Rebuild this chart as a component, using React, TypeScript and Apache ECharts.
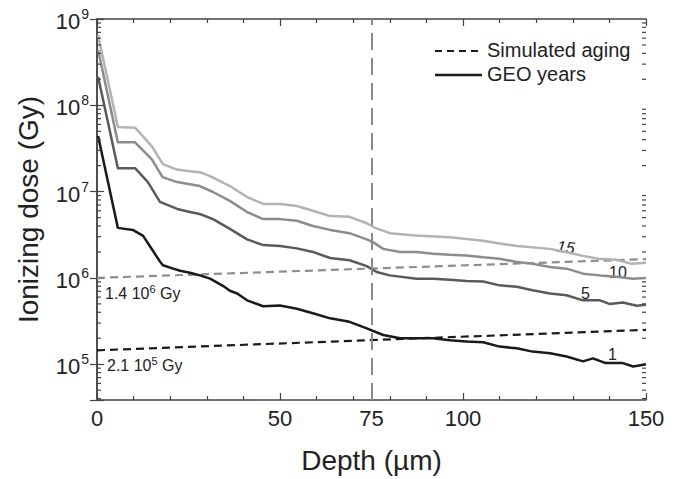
import React, { useEffect, useRef } from 'react';
import * as echarts from 'echarts';

const FONT = '"Liberation Sans", Arial, Helvetica, sans-serif';
const AXIS = '#444';
const TXT = '#222';

// Depth (µm) / ionizing dose (Gy)
const depth1 = [0.3, 5.7, 9.8, 12.6, 15.0, 17.2, 18.0, 20.8, 22.7, 25.4, 28.1, 30.9, 34.4, 36.3, 38.3, 41.0, 45.4, 50.0, 54.6, 59.0, 63.7, 69.0, 73.7, 78.2, 82.8, 87.3, 91.8, 96.4, 101.0, 105.5, 110.0, 114.7, 119.0, 123.8, 128.3, 132.8, 135.5, 139.0, 143.7, 146.5, 150.0];
const dose1 = [4.4e7, 3.8e6, 3.6e6, 3.07e6, 2.15e6, 1.55e6, 1.4e6, 1.28e6, 1.21e6, 1.15e6, 1.07e6, 0.98e6, 0.81e6, 0.71e6, 0.66e6, 0.55e6, 0.47e6, 0.48e6, 0.44e6, 0.39e6, 0.34e6, 0.31e6, 0.26e6, 0.218e6, 0.2e6, 0.2e6, 0.2e6, 0.19e6, 0.183e6, 0.18e6, 0.16e6, 0.153e6, 0.14e6, 0.134e6, 0.123e6, 0.108e6, 0.117e6, 0.103e6, 0.103e6, 0.094e6, 0.1e6];

const depth5 = [0.3, 5.7, 10.4, 13.9, 17.2, 21.9, 25.4, 28.1, 31.7, 36.3, 41.0, 45.4, 50.0, 54.6, 59.0, 63.7, 69.0, 73.7, 76.4, 80.0, 87.3, 91.8, 96.4, 101.0, 105.5, 110.0, 114.7, 119.0, 123.8, 128.3, 132.8, 137.4, 140.0, 143.7, 147.5, 150.0];
const dose5 = [2.14e8, 1.87e7, 1.87e7, 1.29e7, 7.6e6, 6.3e6, 5.8e6, 5.5e6, 4.8e6, 3.7e6, 2.8e6, 2.4e6, 2.35e6, 2.2e6, 2.0e6, 1.7e6, 1.6e6, 1.37e6, 1.17e6, 1.07e6, 0.98e6, 0.98e6, 0.95e6, 0.92e6, 0.91e6, 0.82e6, 0.79e6, 0.72e6, 0.66e6, 0.63e6, 0.55e6, 0.55e6, 0.5e6, 0.52e6, 0.475e6, 0.49e6];

const depth10 = [0.3, 5.7, 10.4, 15.0, 17.9, 21.9, 25.4, 28.1, 31.7, 36.3, 41.0, 45.4, 50.0, 54.6, 59.0, 63.7, 69.0, 73.7, 75.4, 78.2, 82.8, 87.3, 91.8, 96.4, 101.0, 105.5, 110.0, 114.7, 119.0, 123.8, 128.3, 132.8, 137.4, 142.0, 146.4, 150.0];
const dose10 = [4.4e8, 3.72e7, 3.72e7, 2.37e7, 1.47e7, 1.29e7, 1.22e7, 1.16e7, 9.9e6, 7.8e6, 5.8e6, 4.8e6, 4.8e6, 4.6e6, 4.0e6, 3.6e6, 3.3e6, 2.8e6, 2.6e6, 2.17e6, 2.0e6, 2.0e6, 1.9e6, 1.85e6, 1.82e6, 1.74e6, 1.67e6, 1.53e6, 1.46e6, 1.34e6, 1.28e6, 1.12e6, 1.07e6, 1.03e6, 0.98e6, 1.0e6];

const depth15 = [0.3, 5.7, 10.4, 15.0, 18.0, 21.9, 25.4, 28.1, 30.9, 36.3, 41.0, 45.4, 50.0, 54.6, 59.0, 63.7, 69.0, 73.7, 76.0, 80.0, 87.0, 96.4, 105.5, 110.0, 114.8, 123.8, 128.0, 132.8, 137.0, 142.0, 146.0, 150.0];
const dose15 = [6.5e8, 5.6e7, 5.5e7, 3.35e7, 2.08e7, 1.8e7, 1.72e7, 1.68e7, 1.51e7, 1.16e7, 8.65e6, 7.2e6, 7.2e6, 6.8e6, 6.0e6, 5.2e6, 5.1e6, 4.3e6, 3.8e6, 3.3e6, 3.1e6, 2.95e6, 2.7e6, 2.5e6, 2.35e6, 2.17e6, 2.0e6, 1.8e6, 1.67e6, 1.62e6, 1.46e6, 1.5e6];

// Simulated aging (dashed)
const agingDepth = [0, 150];
const agingHigh = [1.0e6, 1.65e6];
const agingLow = [1.45e5, 2.5e5];

const markDepth = 75;
const xLabels = [0, 50, 75, 100, 150];
const legendNames = ['Simulated aging', 'GEO years'];
const X_MIN = 0;
const X_MAX = 150;
const Y_MIN = 3.85e4;
const Y_MAX = 1e9;

const zip = (xs: number[], ys: number[]) => xs.slice(0, Math.min(xs.length, ys.length)).map((x, i) => [x, ys[i]]);

const yMinorTicks: number[][] = [];
for (let e = 4; e <= 8; e++) {
  for (let m = 2; m <= 9; m++) {
    const v = m * Math.pow(10, e);
    if (v > Y_MIN && v < Y_MAX) yMinorTicks.push([0, v]);
  }
}

export default function App() {
  const ref = useRef<HTMLDivElement>(null);
  useEffect(() => {
    document.body.style.margin = '0';
    const chart = echarts.init(ref.current!, null, { renderer: 'svg' });
    const axisLine = { show: true, lineStyle: { color: AXIS, width: 1.5 } };
    const tick = { show: true, inside: true, length: 7, lineStyle: { color: AXIS, width: 1.2 } };
    const powLabel = (v: number) => {
      const e = Math.log10(v);
      const r = Math.round(e);
      if (Math.abs(e - r) > 1e-6) return '';
      return '{b|10}{e|' + r + '}';
    };
    const lineSeries = (name: string, data: number[][], color: string, width = 2.5, type: any = 'solid') => ({
      name,
      type: 'line',
      data,
      symbol: 'none',
      showSymbol: false,
      lineStyle: { color, width, type },
      itemStyle: { color },
      z: 3,
    });
    const annot = (text: string, exp: string, left: number, top: number) => ({
      type: 'text', left, top,
      style: {
        text: '{n|' + text + '}{e|' + exp + '}{n| Gy}',
        rich: {
          n: { fontSize: 16, fill: TXT, fontFamily: FONT, lineHeight: 20 },
          e: { fontSize: 11, fill: TXT, fontFamily: FONT, verticalAlign: 'top' },
        },
      },
    });
    const option: any = {
      animation: false,
      grid: { left: 97, top: 19, right: 40, bottom: 77, containLabel: false },
      xAxis: [
        {
          type: 'value', position: 'bottom', min: X_MIN, max: X_MAX, interval: 50,
          axisLine, axisTick: tick,
          minorTick: { show: true, splitNumber: 5, length: 4, lineStyle: { color: AXIS, width: 1.2 } },
          splitLine: { show: false }, minorSplitLine: { show: false },
          axisLabel: { customValues: xLabels, fontSize: 22, color: TXT, fontFamily: FONT, margin: 7 },
          name: 'Depth (µm)', nameLocation: 'middle', nameGap: 46,
          nameTextStyle: { fontSize: 28, color: TXT, fontFamily: FONT },
        },
        {
          type: 'value', position: 'top', min: X_MIN, max: X_MAX, interval: 50,
          axisLine, axisTick: tick,
          minorTick: { show: true, splitNumber: 5, length: 4, lineStyle: { color: AXIS, width: 1.2 } },
          splitLine: { show: false }, axisLabel: { show: false },
        },
      ],
      yAxis: [
        {
          type: 'log', logBase: 10, min: Y_MIN, max: Y_MAX, position: 'left',
          axisLine, axisTick: tick, splitLine: { show: false },
          axisLabel: {
            formatter: powLabel, margin: 8, color: TXT, fontFamily: FONT,
            rich: {
              b: { fontSize: 22, color: TXT, fontFamily: FONT, lineHeight: 24, padding: [5, 0, 0, 0] },
              e: { fontSize: 14, color: TXT, fontFamily: FONT, lineHeight: 18, verticalAlign: 'top', padding: [0, 0, 0, 1] },
            },
          },
          name: 'Ionizing dose (Gy)', nameLocation: 'middle', nameGap: 55, nameRotate: 90,
          nameTextStyle: { fontSize: 28, color: TXT, fontFamily: FONT },
        },
        {
          type: 'log', logBase: 10, min: Y_MIN, max: Y_MAX, position: 'right',
          axisLine, axisTick: tick, splitLine: { show: false }, axisLabel: { show: false },
        },
      ],
      series: [
        {
          ...lineSeries('aging15', zip(agingDepth, agingHigh), '#8e8e8e', 2.2, [8, 5]),
          markLine: {
            silent: true, symbol: 'none', label: { show: false },
            lineStyle: { color: '#8a8a8a', type: [17, 8], width: 2 },
            data: [{ xAxis: markDepth }],
          },
        },
        lineSeries('aging1', zip(agingDepth, agingLow), '#1a1a1a', 2.2, [8, 5]),
        lineSeries('y15', zip(depth15, dose15), '#b3b3b3'),
        lineSeries('y10', zip(depth10, dose10), '#8c8c8c'),
        lineSeries('y5', zip(depth5, dose5), '#5a5a5a'),
        lineSeries('y1', zip(depth1, dose1), '#1a1a1a'),
        {
          name: 'minorTicks', type: 'custom', data: yMinorTicks, encode: { x: 0, y: 1 },
          silent: true, clip: false, z: 5,
          renderItem: (params: any, api: any) => {
            const v = api.value(1);
            const l = api.coord([X_MIN, v]);
            const r = api.coord([X_MAX, v]);
            const st = { stroke: AXIS, lineWidth: 1.2 };
            return {
              type: 'group',
              children: [
                { type: 'line', shape: { x1: l[0], y1: l[1], x2: l[0] + 4, y2: l[1] }, style: st },
                { type: 'line', shape: { x1: r[0] - 4, y1: r[1], x2: r[0], y2: r[1] }, style: st },
              ],
            };
          },
        },
      ],
      graphic: [
        // legend
        { type: 'line', shape: { x1: 435, y1: 51, x2: 482, y2: 51 }, style: { stroke: '#1a1a1a', lineWidth: 2.2, lineDash: [7, 5] } },
        { type: 'text', left: 487, top: 40, style: { text: legendNames[0], fontSize: 20, fill: TXT, fontFamily: FONT } },
        { type: 'line', shape: { x1: 435, y1: 75, x2: 482, y2: 75 }, style: { stroke: '#1a1a1a', lineWidth: 2.5 } },
        { type: 'text', left: 487, top: 64, style: { text: legendNames[1], fontSize: 20, fill: TXT, fontFamily: FONT } },
        // annotations
        annot('1.4 10', '6', 105, 283),
        annot('2.1 10', '5', 107, 355),
        { type: 'text', left: 556, top: 238, rotation: -0.12, style: { text: '15', fontSize: 16, fontStyle: 'italic', fill: TXT, fontFamily: FONT } },
        { type: 'text', left: 609, top: 264, style: { text: '10', fontSize: 16, fill: TXT, fontFamily: FONT } },
        { type: 'text', left: 581, top: 285, style: { text: '5', fontSize: 16, fill: TXT, fontFamily: FONT } },
        { type: 'text', left: 608, top: 346, style: { text: '1', fontSize: 16, fill: TXT, fontFamily: FONT } },
      ],
    };
    chart.setOption(option);
    return () => chart.dispose();
  }, []);
  return <div ref={ref} style={{ width: 686, height: 479 }} />;
}
